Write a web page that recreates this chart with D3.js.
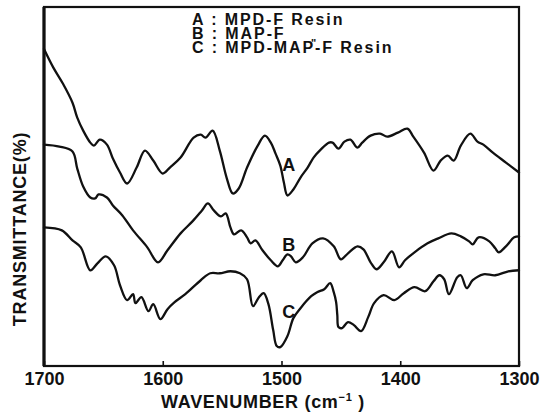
<!DOCTYPE html>
<html>
<head>
<meta charset="utf-8">
<script src="https://cdn.jsdelivr.net/npm/d3@7"></script>
<style>
  html, body { margin: 0; padding: 0; background: #fff; }
  svg { display: block; }
  text { font-family: "Liberation Sans", Arial, sans-serif; font-weight: bold; fill: #111; }
</style>
</head>
<body>
<svg id="chart" width="543" height="412"></svg>
<script>
// IR spectra: [wavenumber (cm-1), transmittance (%), offset per trace]
const spectrumA = [
  [1700,79.5],[1692,74.75],[1684,70.75],[1676,66],[1672,62.25],[1667,59],[1661,56],[1658,55.25],
  [1653,56.75],[1647,55.5],[1642,52],[1636,48.5],[1630,45.75],[1622,49.75],[1615,54],[1608,51.5],
  [1600,48.25],[1594,49.75],[1585,52.25],[1574,57.25],[1568,58],[1564,57.25],[1558,59],[1552,54],
  [1546,47],[1541,43.25],[1536,44.5],[1529,49.75],[1520,55.25],[1514,57.75],[1509,56],[1505,53.25],
  [1501,50.25],[1498,46],[1495,42.75],[1490,44.25],[1484,47.25],[1478,49.75],[1473,52.25],[1467,54.25],
  [1460,56],[1457,56],[1452,54.5],[1447,56.25],[1442,56.75],[1436,54.75],[1432,56],[1425,57.75],
  [1417,58.25],[1411,57.5],[1402,58.5],[1394,59.5],[1389,57.5],[1380,53.5],[1372,49],[1366,51.5],
  [1360,52.75],[1355,51.5],[1349,55.25],[1341,58.25],[1335,56.25],[1330,55.5],[1322,53.5],[1311,51],
  [1300,48.5]
];

const spectrumB = [
  [1700,55.5],[1687,55],[1676,53.75],[1672,49.5],[1667,45],[1661,42.25],[1657,42],[1654,43],
  [1647,42.25],[1642,40.25],[1634,37.75],[1625,34],[1613,29.75],[1604,26],[1596,29],[1585,33.25],
  [1575,36.25],[1567,39],[1562,40.75],[1557,39],[1551,37.5],[1547,38.25],[1543,34.75],[1540,33],
  [1534,34],[1529,32.25],[1526,30.75],[1522,31.5],[1516,29],[1509,26.5],[1503,25],[1499,26.5],
  [1495,28],[1492,27.5],[1488,26],[1482,27.25],[1474,30.75],[1465,32],[1456,30],[1450,26.75],
  [1444,28.25],[1436,30],[1431,29.25],[1425,26],[1420,24.25],[1414,26],[1407,28.75],[1401,24.75],
  [1396,26.5],[1388,28.5],[1377,30.75],[1368,32],[1357,33.25],[1349,32.5],[1342,31.25],[1339,30.5],
  [1334,32.25],[1325,31.25],[1320,29.5],[1317,28.5],[1311,30],[1304,32.25],[1300,32.5]
];

const spectrumC = [
  [1700,34.75],[1685,34],[1676,31.5],[1669,29.75],[1661,24],[1655,25.75],[1648,27.5],[1641,25.25],
  [1636,20.25],[1630,16.5],[1625,18],[1623,15.75],[1618,17.25],[1612,13.75],[1608,15.5],[1602,11.75],
  [1596,14.25],[1590,16],[1581,18],[1568,21.5],[1560,23.25],[1552,23.25],[1543,23.75],[1535,23.25],
  [1529,21.75],[1524,15],[1519,17.25],[1515,18.25],[1511,15.5],[1507,9],[1504,5],[1501,4.75],
  [1495,7.5],[1490,12],[1484,14.5],[1475,17.5],[1470,18.5],[1464,19.25],[1459,20.75],[1456,18.5],
  [1454,16],[1453,12.75],[1452,9.75],[1449,9.5],[1444,11],[1439,10.25],[1433,8.75],[1427,12.25],
  [1422,15.75],[1414,17.75],[1405,16.5],[1397,18.25],[1388,19.75],[1379,18.75],[1372,21.25],[1367,22.75],
  [1363,21.75],[1359,18],[1352,22.25],[1349,22.75],[1344,19.5],[1339,21.5],[1330,23],[1320,22.75],
  [1309,23.75],[1300,24]
];

// Trace labels placed on the plot: [name, wavenumber, transmittance]
const traceLabels = [["A",1494,50.4],["B",1494,30.3],["C",1494,13.5]];

const legendLines = ["A : MPD-F Resin", "B : MAP-F", "C : MPD-MAP-F Resin"];
const xTickValues = [1700, 1600, 1500, 1400, 1300];
const xTitle = "WAVENUMBER";
const yTitle = "TRANSMITTANCE(%)";

const svg = d3.select("#chart");
const plotLeft = 44, plotRight = 519, plotTop = 7, plotBottom = 366;

const x = d3.scaleLinear().domain([1700, 1300]).range([plotLeft, plotRight]);
const y = d3.scaleLinear().domain([0, 90]).range([plotBottom, plotTop]);

// spectra
const line = d3.line().x(d => x(d[0])).y(d => y(d[1])).curve(d3.curveCatmullRom.alpha(0.5));
[spectrumA, spectrumB, spectrumC].forEach(s => {
  svg.append("path")
    .attr("d", line(s))
    .attr("fill", "none")
    .attr("stroke", "#111")
    .attr("stroke-width", 2.3)
    .attr("stroke-linejoin", "round")
    .attr("stroke-linecap", "round");
});

// frame
svg.append("rect")
  .attr("x", plotLeft).attr("y", plotTop)
  .attr("width", plotRight - plotLeft).attr("height", plotBottom - plotTop)
  .attr("fill", "none").attr("stroke", "#111").attr("stroke-width", 2.2);
svg.append("line")
  .attr("x1", plotLeft).attr("x2", plotLeft).attr("y1", plotTop).attr("y2", plotBottom)
  .attr("stroke", "#111").attr("stroke-width", 3.2);

// x axis with inward ticks
const xAxis = d3.axisBottom(x)
  .tickValues(xTickValues)
  .tickFormat(d3.format("d"))
  .tickSize(-5)
  .tickPadding(6);
const gx = svg.append("g").attr("transform", `translate(0,${plotBottom})`).call(xAxis);
gx.select(".domain").remove();
gx.selectAll(".tick line").attr("stroke", "#111").attr("stroke-width", 1.6);
gx.selectAll(".tick text")
  .attr("font-family", "'Liberation Sans', Arial, sans-serif")
  .attr("font-weight", "bold")
  .attr("font-size", 18)
  .attr("fill", "#111");

// axis titles
const xt = svg.append("text")
  .attr("x", 263).attr("y", 408)
  .attr("text-anchor", "middle")
  .attr("font-size", 18)
  .attr("letter-spacing", 0.7);
xt.append("tspan").text(xTitle + " (cm");
xt.append("tspan").attr("dy", -7).attr("font-size", 11).text("−1");
xt.append("tspan").attr("dy", 7).text(" )");

svg.append("text")
  .attr("transform", "translate(26,229) rotate(-90)")
  .attr("text-anchor", "middle")
  .attr("font-size", 18)
  .attr("letter-spacing", 0.8)
  .text(yTitle);

// legend: compact stacked lines with wide tracking
legendLines.forEach((t, i) => {
  svg.append("text")
    .attr("x", 192).attr("y", 25 + i * 14)
    .attr("font-size", 16)
    .attr("letter-spacing", 1.9)
    .text(t);
});
// ditto mark after MAP-F
svg.append("text")
  .attr("x", 311).attr("y", 47)
  .attr("font-size", 11)
  .text("\"");

// trace labels
traceLabels.forEach(([name, w, t]) => {
  svg.append("text")
    .attr("x", x(w)).attr("y", y(t))
    .attr("text-anchor", "middle")
    .attr("dominant-baseline", "central")
    .attr("font-size", 18)
    .text(name);
});
</script>
</body>
</html>
